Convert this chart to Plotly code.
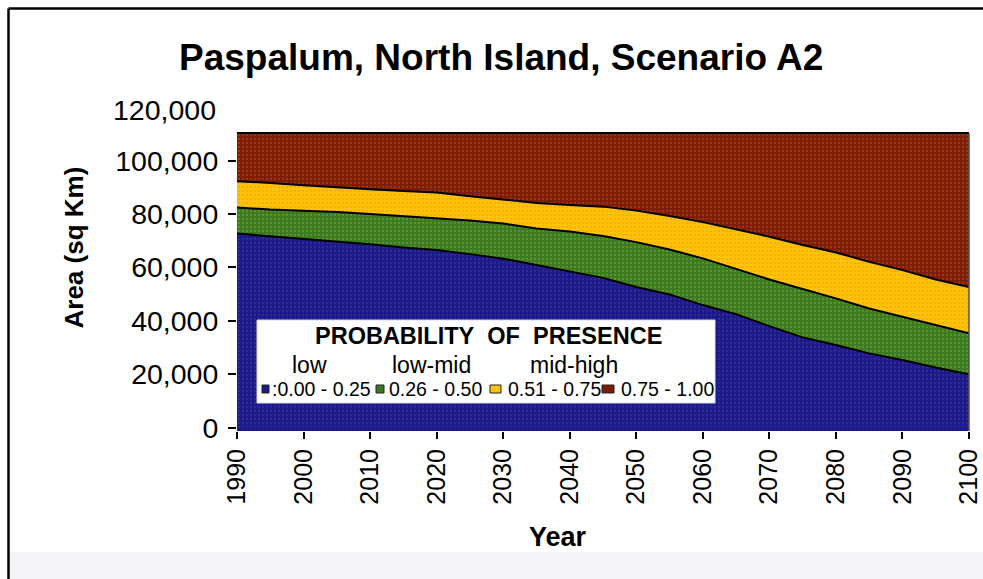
import plotly.graph_objects as go

# ---------------- data ----------------
years = [1990, 1995, 2000, 2005, 2010, 2015, 2020, 2025, 2030, 2035, 2040, 2045,
         2050, 2055, 2060, 2065, 2070, 2075, 2080, 2085, 2090, 2095, 2100]

# area (sq km) per probability-of-presence class
area_low = [72700, 71700, 70800, 69600, 68700, 67500, 66500, 65000, 63300, 60900, 58400, 56100,
            52700, 49900, 45900, 42500, 38000, 33800, 30900, 27800, 25300, 22500, 20000]
area_lowmid = [9800, 10000, 10500, 11200, 11300, 11700, 11900, 12600, 13200, 13700, 15100, 15700,
               16800, 16800, 17500, 16900, 17500, 18100, 17500, 16800, 16200, 15900, 15300]
area_midhigh = [9800, 10000, 9500, 9200, 9300, 9500, 9700, 9100, 8900, 9600, 9900, 11000,
                11800, 12600, 13600, 14800, 16000, 16500, 17200, 17500, 17500, 17100, 17400]
area_high = [18100, 18700, 19600, 20400, 21100, 21700, 22300, 23700, 25000, 26200, 27000, 27600,
             29100, 31100, 33400, 36200, 38900, 42000, 44800, 48300, 51400, 54900, 57700]

class_series = [area_low, area_lowmid, area_midhigh, area_high]
class_names = ["low", "low-mid", "mid-high", "high"]
class_ranges = [":0.00 - 0.25", "0.26 - 0.50", "0.51 - 0.75", "0.75 - 1.00"]
class_colors = ["#1a1a8a", "#3b7a20", "#fec208", "#7c1c04"]
class_dots = ["#4a3a9a", "#7fb03a", "#f09a10", "#c0541a"]

title_text = "Paspalum, North Island, Scenario A2"
legend_title = "PROBABILITY&nbsp; OF&nbsp; PRESENCE"
y_tick_vals = [0, 20000, 40000, 60000, 80000, 100000]
y_tick_text = ["0", "20,000", "40,000", "60,000", "80,000", "100,000"]
y_top_label = "120,000"
x_tick_vals = [1990, 2000, 2010, 2020, 2030, 2040, 2050, 2060, 2070, 2080, 2090, 2100]

total_area = area_low[0] + area_lowmid[0] + area_midhigh[0] + area_high[0]

# ---------------- layout geometry (pixels) ----------------
W, H = 983, 579
ML, MR, MT, MB = 237, 14, 133, 148
PW, PH = W - ML - MR, H - MT - MB


def px_x(px):
    return (px - ML) / PW


def px_y(py):
    return (H - MB - py) / PH


FONT = "Arial, Liberation Sans, Helvetica, sans-serif"

fig = go.Figure()
for vals, name, col, dot in zip(class_series, class_names, class_colors, class_dots):
    fig.add_trace(go.Scatter(
        x=years, y=vals, name=name, mode="lines", stackgroup="one",
        line=dict(color="black", width=2),
        fillcolor=col,
        fillpattern=dict(shape=".", size=4, solidity=0.25, fgcolor=dot, bgcolor=col),
        showlegend=False, hoverinfo="skip",
    ))

fig.update_layout(
    width=W, height=H,
    margin=dict(l=ML, r=MR, t=MT, b=MB, autoexpand=False),
    paper_bgcolor="white",
    plot_bgcolor=class_colors[0],
    showlegend=False,
    font=dict(family=FONT, color="black"),
)

fig.update_xaxes(
    range=[1990, 2100], tickvals=x_tick_vals, tickangle=-90,
    ticks="outside", ticklen=7, tickwidth=1.5, tickcolor="black",
    tickfont=dict(size=25, family=FONT, color="black"),
    showgrid=False, zeroline=False, showline=False, automargin=False,
)
fig.update_yaxes(
    range=[-1300, total_area], tickvals=y_tick_vals, ticktext=y_tick_text,
    ticks="outside", ticklen=8, tickwidth=1.5, tickcolor="black", ticklabelstandoff=4,
    tickfont=dict(size=28.5, family=FONT, color="black"),
    showgrid=False, zeroline=False, showline=False, automargin=False,
)

shapes = []
# plot frame (top and right)
shapes.append(dict(type="line", xref="paper", yref="paper", x0=0, x1=1, y0=1, y1=1,
                   line=dict(color="black", width=2)))
shapes.append(dict(type="line", xref="paper", yref="paper", x0=1, x1=1, y0=0, y1=1,
                   line=dict(color="#555555", width=1.5)))
# outer picture frame (left and top edges)
shapes.append(dict(type="line", xref="paper", yref="paper",
                   x0=px_x(8.5), x1=px_x(983), y0=px_y(8.5), y1=px_y(8.5),
                   line=dict(color="black", width=2.5), layer="above"))
shapes.append(dict(type="line", xref="paper", yref="paper",
                   x0=px_x(8.5), x1=px_x(8.5), y0=px_y(8.5), y1=px_y(579),
                   line=dict(color="black", width=2.5), layer="above"))
# faint bottom band
shapes.append(dict(type="rect", xref="paper", yref="paper",
                   x0=px_x(10), x1=px_x(990), y0=px_y(552), y1=px_y(590),
                   line=dict(width=0), fillcolor="#f5f5f7", layer="below"))
# legend box
shapes.append(dict(type="rect", xref="paper", yref="paper",
                   x0=px_x(257), x1=px_x(715), y0=px_y(320), y1=px_y(403),
                   line=dict(color="#d8d8ea", width=1), fillcolor="white", layer="above"))

sq_x = [(262, 269), (376, 384), (490, 501), (602, 614)]
txt_x = [270, 387, 506, 619]
hdr_x = [309.5, 431, 573.5]

annotations = []
for (a, b), col in zip(sq_x, class_colors):
    shapes.append(dict(type="rect", xref="paper", yref="paper",
                       x0=px_x(a), x1=px_x(b), y0=px_y(385), y1=px_y(393),
                       line=dict(color="#222222", width=1), fillcolor=col, layer="above"))
for x0, txt in zip(txt_x, class_ranges):
    annotations.append(dict(text=txt, xref="paper", yref="paper", x=px_x(x0), y=px_y(389),
                            xanchor="left", yanchor="middle", showarrow=False,
                            font=dict(size=19.5, family=FONT, color="black")))
for xc, txt in zip(hdr_x, class_names[:3]):
    annotations.append(dict(text=txt, xref="paper", yref="paper", x=px_x(xc), y=px_y(365),
                            xanchor="center", yanchor="middle", showarrow=False,
                            font=dict(size=23, family=FONT, color="black")))
annotations.append(dict(text="<b>" + legend_title + "</b>", xref="paper", yref="paper",
                        x=px_x(488), y=px_y(336), xanchor="center", yanchor="middle",
                        showarrow=False, font=dict(size=23.5, family=FONT, color="black")))

# title and axis titles
annotations.append(dict(text="<b>" + title_text + "</b>", xref="paper", yref="paper",
                        x=px_x(501), y=px_y(58), xanchor="center", yanchor="middle",
                        showarrow=False, font=dict(size=37, family=FONT, color="black")))
annotations.append(dict(text="<b>Area (sq Km)</b>", xref="paper", yref="paper",
                        x=px_x(73), y=px_y(247.5), xanchor="center", yanchor="middle",
                        textangle=-90, showarrow=False,
                        font=dict(size=26, family=FONT, color="black")))
annotations.append(dict(text="<b>Year</b>", xref="paper", yref="paper",
                        x=px_x(558), y=px_y(537), xanchor="center", yanchor="middle",
                        showarrow=False, font=dict(size=27, family=FONT, color="black")))
# top y label (outside the frame, no tick)
annotations.append(dict(text=y_top_label, xref="paper", yref="paper", x=px_x(218), y=px_y(110),
                        xanchor="right", yanchor="middle", showarrow=False,
                        font=dict(size=28.5, family=FONT, color="black")))

fig.update_layout(shapes=shapes, annotations=annotations)
fig.write_html("out.html", config={"displayModeBar": False},
               post_script="document.body.style.margin='0';")
